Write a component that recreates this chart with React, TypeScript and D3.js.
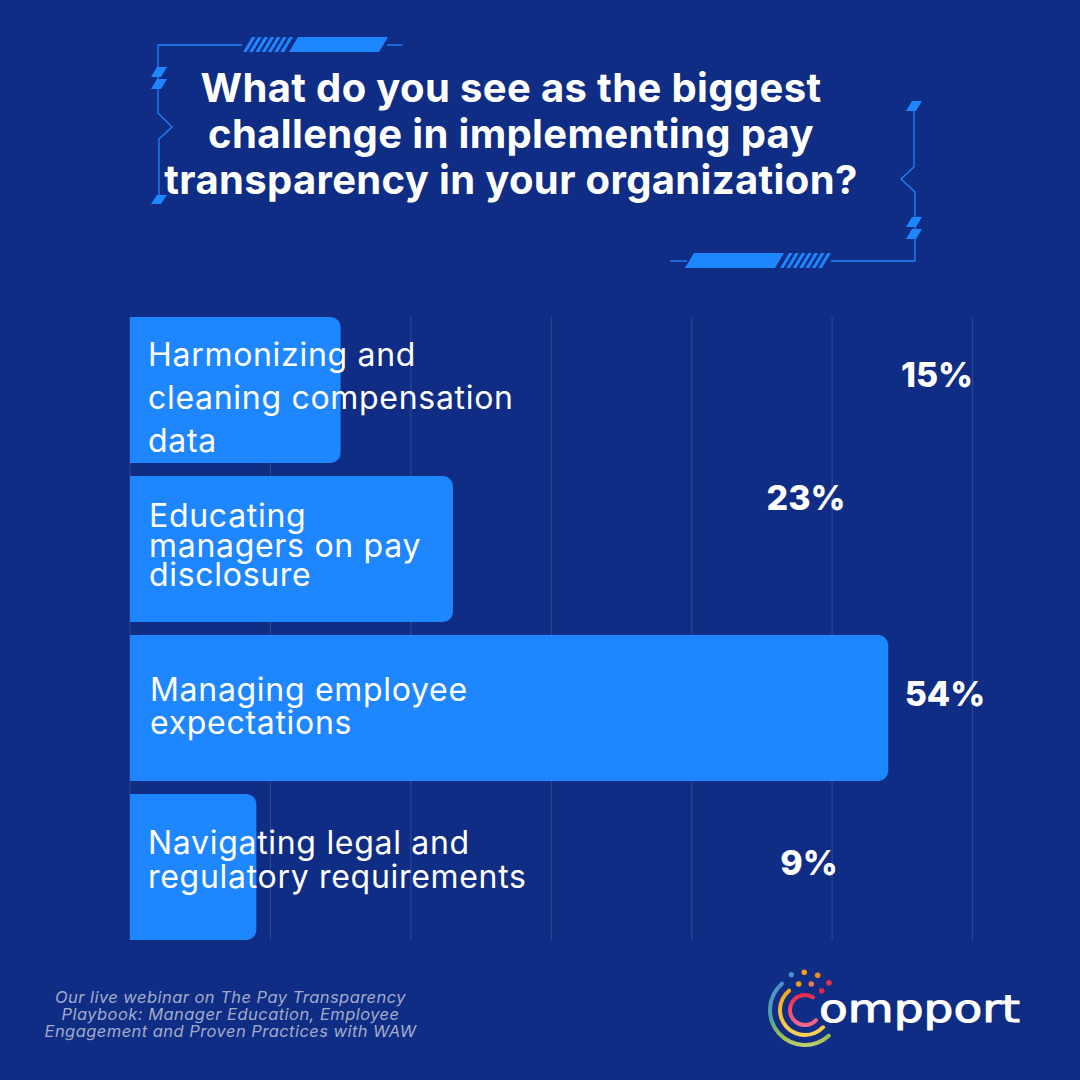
import React from 'react';
import * as d3 from 'd3';

const categories = [
  'Harmonizing and cleaning compensation data',
  'Educating managers on pay disclosure',
  'Managing employee expectations',
  'Navigating legal and regulatory requirements',
];
const values = [15, 23, 54, 9];
const gridTicks = [0, 10, 20, 30, 40, 50, 60];
const titleLines = [
  'What do you see as the biggest',
  'challenge in implementing pay',
  'transparency in your organization?',
];
const labelLines = [
  ['Harmonizing and', 'cleaning compensation', 'data'],
  ['Educating', 'managers on pay', 'disclosure'],
  ['Managing employee', 'expectations'],
  ['Navigating legal and', 'regulatory requirements'],
];
const footerLines = [
  'Our live webinar on The Pay Transparency',
  'Playbook: Manager Education, Employee',
  'Engagement and Proven Practices with WAW',
];

// label placement doesn't follow the scale in the original, so it's set by hand per row
const labelLayout = [
  { x: 148, y: 366, step: 43 },
  { x: 149, y: 527, step: 29.5 },
  { x: 150, y: 701, step: 33 },
  { x: 148, y: 854, step: 34 },
];
const valueLayout = [
  { x: 937, y: 387 },
  { x: 806, y: 510 },
  { x: 945, y: 706 },
  { x: 809, y: 875 },
];

const BG = '#0f2d84';
const BLUE = '#1e86ff';
const LABEL_FONT = 'Inter, sans-serif';

const x = d3.scaleLinear().domain([0, 60]).range([130, 972.5]);
const y = d3.scaleBand().domain(categories).range([317, 940]).paddingInner(13 / 159);

function barPath(x0: number, x1: number, y0: number, y1: number, r: number) {
  const p = d3.path();
  p.moveTo(x0, y0);
  p.lineTo(x1 - r, y0);
  p.arcTo(x1, y0, x1, y0 + r, r);
  p.lineTo(x1, y1 - r);
  p.arcTo(x1, y1, x1 - r, y1, r);
  p.lineTo(x0, y1);
  p.closePath();
  return p.toString();
}

function para(x0: number, y0: number, w: number, h: number, skew: number) {
  return `M${x0 + skew},${y0}h${w}l${-skew},${h}h${-w}z`;
}

function Frame() {
  const line = d3.line();
  const stripes = (x0: number, y0: number, h: number, skew: number, n: number, w: number, gap: number) =>
    d3.range(n).map(i => <path key={i} d={para(x0 + i * gap, y0, w, h, skew)} fill={BLUE} />);
  return (
    <g>
      <path fill="none" stroke={BLUE} strokeWidth={1.3} d={line([[242, 45], [158, 45], [158, 113], [172, 127], [159, 139], [159, 197]])!} />
      <path fill="none" stroke={BLUE} strokeWidth={1.3} d={line([[387, 45], [403, 45]])!} />
      {stripes(243, 37, 15, 9, 7, 3.5, 6.25)}
      <path d={para(289, 37, 90, 15, 9)} fill={BLUE} />
      <path d={para(151, 67, 10, 10, 6)} fill={BLUE} />
      <path d={para(151, 79, 10, 10, 6)} fill={BLUE} />
      <path d={para(151, 195, 10, 9, 6)} fill={BLUE} />

      <path fill="none" stroke={BLUE} strokeWidth={1.3} d={line([[914, 108], [914, 167], [901, 179], [915, 192], [915, 261], [831, 261]])!} />
      <path fill="none" stroke={BLUE} strokeWidth={1.3} d={line([[670, 261], [687, 261]])!} />
      {stripes(780, 253, 15, 9, 7, 3.5, 6.4)}
      <path d={para(685, 253, 90, 15, 9)} fill={BLUE} />
      <path d={para(906, 101, 10, 10, 6)} fill={BLUE} />
      <path d={para(906, 217, 10, 10, 6)} fill={BLUE} />
      <path d={para(906, 229, 10, 10, 6)} fill={BLUE} />
    </g>
  );
}

const logoDots = [
  { cx: 791.3, cy: 974.7, r: 2.6, fill: '#4f8fd0' },
  { cx: 804.3, cy: 972.3, r: 2.8, fill: '#f59f10' },
  { cx: 817.7, cy: 975.3, r: 2.8, fill: '#f08a20' },
  { cx: 798.7, cy: 984, r: 2.8, fill: '#f5a010' },
  { cx: 811.3, cy: 984, r: 2.8, fill: '#f0764f' },
  { cx: 829, cy: 982.7, r: 2.8, fill: '#e8304a' },
  { cx: 821.7, cy: 990.7, r: 2.8, fill: '#e8204f' },
];

function Logo() {
  const deg = Math.PI / 180;
  const ring = (r: number, a0: number, a1: number, w: number) =>
    d3.arc().innerRadius(r - w / 2).outerRadius(r + w / 2).startAngle(a0 * deg).endAngle(a1 * deg).cornerRadius(w / 2)({} as any)!;
  return (
    <g>
      <defs>
        <linearGradient id="lg-outer" x1="0" y1="0" x2="0" y2="1">
          <stop offset="0" stopColor="#4f8fd0" />
          <stop offset="0.55" stopColor="#4fa0a0" />
          <stop offset="0.85" stopColor="#9cc04a" />
          <stop offset="1" stopColor="#c5d07a" />
        </linearGradient>
        <linearGradient id="lg-mid" x1="0" y1="0" x2="0" y2="1">
          <stop offset="0" stopColor="#f5a90f" />
          <stop offset="1" stopColor="#f7d35a" />
        </linearGradient>
        <linearGradient id="lg-inner" x1="0" y1="0" x2="0" y2="1">
          <stop offset="0" stopColor="#ea2a4a" />
          <stop offset="1" stopColor="#f56a90" />
        </linearGradient>
      </defs>
      <g transform="translate(805,1010)">
        <path d={ring(35, 134, 322, 4)} fill="url(#lg-outer)" />
        <path d={ring(25, 129, 325, 4)} fill="url(#lg-mid)" />
        <path d={ring(15, 125, 400, 4)} fill="url(#lg-inner)" />
      </g>
      {logoDots.map((d, i) => <circle key={i} {...d} />)}
      <text x={819} y={1022} fontFamily="'DejaVu Sans', sans-serif" fontSize={37} fill="#fff" stroke="#fff" strokeWidth={1} strokeLinejoin="round" textLength={201} lengthAdjust="spacingAndGlyphs">ompport</text>
    </g>
  );
}

export default function App() {
  return (
    <svg width={1080} height={1080} viewBox="0 0 1080 1080" style={{ position: 'absolute', left: 0, top: 0 }}>
      <rect width={1080} height={1080} fill={BG} />
      <Frame />

      {titleLines.map((t, i) => (
        <text key={t} x={511} y={102 + i * 46} textAnchor="middle" fontFamily={LABEL_FONT} fontWeight={700} fontSize={40} letterSpacing={0.35} fill="#fff">{t}</text>
      ))}

      {gridTicks.map(t => (
        <line key={t} x1={x(t)} x2={x(t)} y1={317} y2={940} stroke="#2f478f" strokeWidth={1.2} />
      ))}

      {categories.map((c, i) => (
        <path key={c} d={barPath(x(0), x(values[i]), y(c)!, y(c)! + y.bandwidth(), 10)} fill={BLUE} />
      ))}

      {labelLines.map((lines, i) =>
        lines.map((l, j) => (
          <text key={l} x={labelLayout[i].x} y={labelLayout[i].y + j * labelLayout[i].step} fontFamily={LABEL_FONT} fontSize={32} letterSpacing={0.7} fill="#fff">{l}</text>
        ))
      )}

      {values.map((v, i) => (
        <text key={i} x={valueLayout[i].x} y={valueLayout[i].y} textAnchor="middle" fontFamily={LABEL_FONT} fontWeight={800} fontSize={34} fill="#fff">{v}%</text>
      ))}

      {footerLines.map((l, i) => (
        <text key={l} x={230.5} y={1003 + i * 17} textAnchor="middle" fontFamily={LABEL_FONT} fontStyle="italic" fontSize={16.5} letterSpacing={0.45} fill="#a3abc9">{l}</text>
      ))}

      <Logo />
    </svg>
  );
}
